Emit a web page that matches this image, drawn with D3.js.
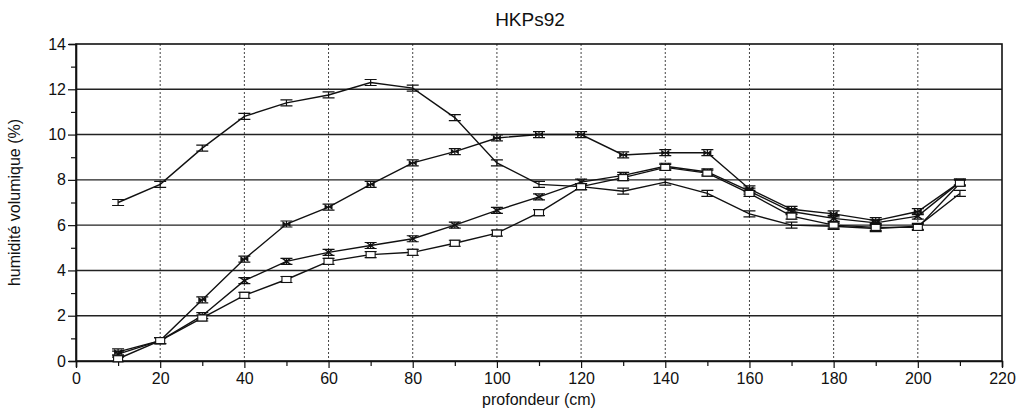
<!DOCTYPE html>
<html>
<head>
<meta charset="utf-8">
<script src="https://d3js.org/d3.v7.min.js"></script>
<style>
  body { margin: 0; background: #fff; }
  text { font-family: "Liberation Sans", Arial, sans-serif; fill: #111; }
</style>
</head>
<body>
<div id="chart"></div>
<script>
// profondeur (cm)
var depths = [10, 20, 30, 40, 50, 60, 70, 80, 90, 100, 110, 120, 130, 140, 150, 160, 170, 180, 190, 200, 210];

// humidité volumique (%) for the four profiles
var serieA = [7.0, 7.8, 9.4, 10.8, 11.4, 11.75, 12.3, 12.05, 10.75, 8.75, 7.8, 7.7, 7.5, 7.9, 7.4, 6.5, 6.0, 5.95, 5.85, 5.95, 7.4];
var serieB = [0.4, 0.9, 2.7, 4.5, 6.05, 6.8, 7.8, 8.75, 9.25, 9.85, 10.0, 10.0, 9.1, 9.2, 9.2, 7.6, 6.7, 6.5, 6.2, 6.6, 7.9];
var serieC = [0.3, 0.9, 2.0, 3.55, 4.4, 4.8, 5.1, 5.4, 6.0, 6.65, 7.25, 7.9, 8.2, 8.6, 8.35, 7.5, 6.6, 6.3, 6.1, 6.4, 7.9];
var serieD = [0.1, 0.9, 1.9, 2.9, 3.6, 4.4, 4.7, 4.8, 5.2, 5.65, 6.55, 7.7, 8.1, 8.55, 8.3, 7.4, 6.4, 6.0, 5.9, 5.9, 7.85];

var xTicks = [0, 20, 40, 60, 80, 100, 120, 140, 160, 180, 200, 220];
var yTicks = [0, 2, 4, 6, 8, 10, 12, 14];

var width = 1022, height = 413;
var margin = {top: 44, right: 20, bottom: 52, left: 76};

var svg = d3.select("#chart").append("svg")
  .attr("width", width).attr("height", height);

var x = d3.scaleLinear().domain([0, 220]).range([margin.left, width - margin.right]);
var y = d3.scaleLinear().domain([0, 14]).range([height - margin.bottom, margin.top]);

// horizontal grid (solid)
svg.append("g").selectAll("line")
  .data(yTicks.filter(function(d){ return d > 0 && d < 14; }))
  .enter().append("line")
  .attr("x1", x(0)).attr("x2", x(220))
  .attr("y1", function(d){ return y(d); }).attr("y2", function(d){ return y(d); })
  .attr("stroke", "#222").attr("stroke-width", 1.4);

// vertical grid (dotted)
svg.append("g").selectAll("line")
  .data(xTicks.filter(function(d){ return d > 0 && d < 220; }))
  .enter().append("line")
  .attr("x1", function(d){ return x(d); }).attr("x2", function(d){ return x(d); })
  .attr("y1", y(14)).attr("y2", y(0))
  .attr("stroke", "#444").attr("stroke-width", 1).attr("stroke-dasharray", "2,2");

// frame
svg.append("rect")
  .attr("x", x(0)).attr("y", y(14))
  .attr("width", x(220) - x(0)).attr("height", y(0) - y(14))
  .attr("fill", "none").attr("stroke", "#111").attr("stroke-width", 1.6);

// axes
var xAxis = svg.append("g").attr("transform", "translate(0," + y(0) + ")")
  .call(d3.axisBottom(x).tickValues(d3.range(0, 221, 10)).tickSize(6)
    .tickFormat(function(d){ return d % 20 === 0 ? d : ""; }));
var yAxis = svg.append("g").attr("transform", "translate(" + x(0) + ",0)")
  .call(d3.axisLeft(y).tickValues(d3.range(0, 15, 1)).tickSize(7)
    .tickFormat(function(d){ return d % 2 === 0 ? d : ""; }));

[xAxis, yAxis].forEach(function(a){
  a.select(".domain").attr("stroke", "#111").attr("stroke-width", 1.6);
  a.selectAll(".tick line").attr("stroke", "#111").attr("stroke-width", 1.2);
  a.selectAll("text").style("font-size", "16px").attr("fill", "#111");
});
xAxis.selectAll(".tick line").attr("y2", function(d){ return d % 20 === 0 ? 7 : 5; });
yAxis.selectAll(".tick line").attr("x2", function(d){ return d % 2 === 0 ? -8 : -5; });
xAxis.selectAll("text").attr("dy", "0.9em");
yAxis.selectAll("text").attr("x", -10);

// series
var series = [
  {name: "A", values: serieA, marker: "none"},
  {name: "B", values: serieB, marker: "bow"},
  {name: "C", values: serieC, marker: "cross"},
  {name: "D", values: serieD, marker: "square"}
];

var line = d3.line()
  .x(function(d){ return x(d.x); })
  .y(function(d){ return y(d.y); });

series.forEach(function(s){
  var pts = depths.map(function(d, i){ return {x: d, y: s.values[i]}; });
  svg.append("path").datum(pts)
    .attr("d", line).attr("fill", "none")
    .attr("stroke", "#111").attr("stroke-width", 1.4);

  var g = svg.append("g").selectAll("g").data(pts).enter().append("g")
    .attr("transform", function(d){ return "translate(" + x(d.x) + "," + y(d.y) + ")"; });

  // error bars
  g.append("path")
    .attr("d", "M-6,-3H6M-6,3H6M0,-3V3")
    .attr("stroke", "#111").attr("stroke-width", 1.2).attr("fill", "none");

  if (s.marker === "square") {
    g.append("rect").attr("x", -4.5).attr("y", -3).attr("width", 9).attr("height", 6)
      .attr("fill", "#fff").attr("stroke", "#111").attr("stroke-width", 1.1);
  } else if (s.marker === "bow") {
    g.append("path").attr("d", "M-4,-3L4,3V-3L-4,3Z").attr("fill", "#111");
  } else if (s.marker === "cross") {
    g.append("path").attr("d", "M-4,-3L4,3M-4,3L4,-3")
      .attr("stroke", "#111").attr("stroke-width", 1.4);
  }
});

// titles
svg.append("text").attr("x", 530).attr("y", 26)
  .attr("text-anchor", "middle").style("font-size", "19px").text("HKPs92");
svg.append("text").attr("x", (x(0) + x(220)) / 2).attr("y", 405)
  .attr("text-anchor", "middle").style("font-size", "16px").text("profondeur (cm)");
svg.append("text")
  .attr("transform", "translate(20," + ((y(0) + y(14)) / 2) + ") rotate(-90)")
  .attr("text-anchor", "middle").style("font-size", "16px").text("humidité volumique (%)");
</script>
</body>
</html>
